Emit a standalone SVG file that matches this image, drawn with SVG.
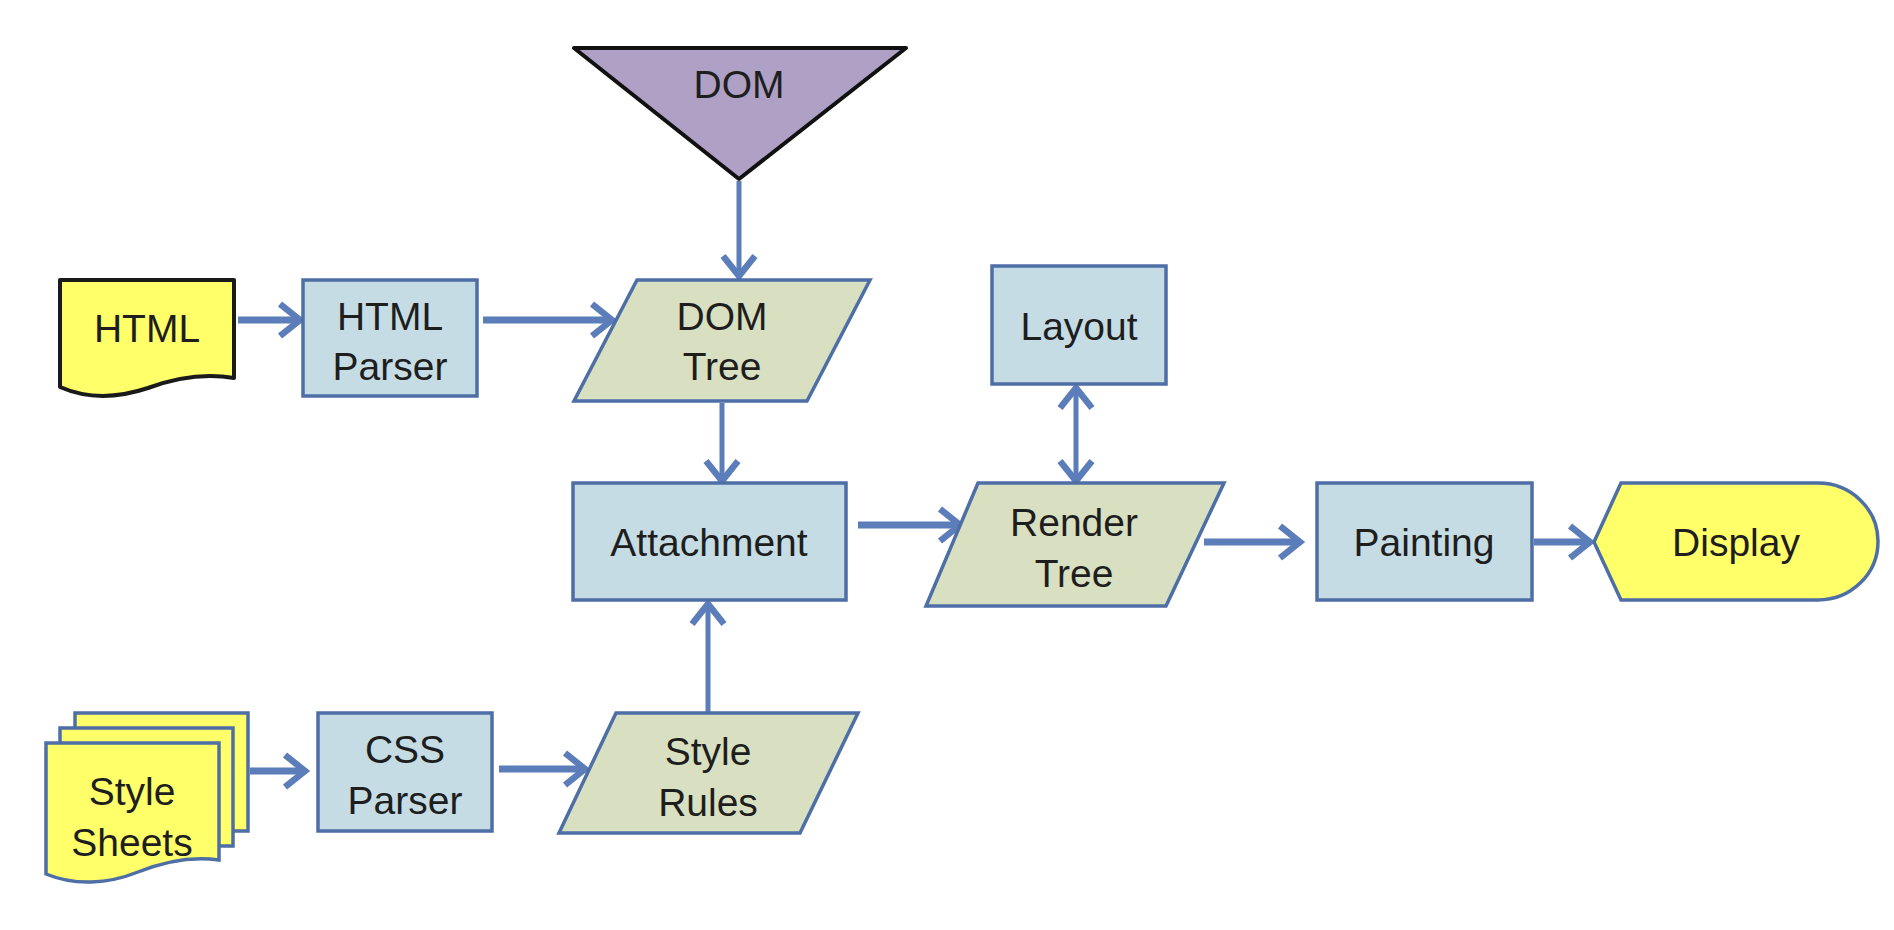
<svg xmlns="http://www.w3.org/2000/svg" width="1894" height="930" viewBox="0 0 1894 930">
<style>
.box{fill:#C5DCE5;stroke:#4E6EA6;stroke-width:3.5}
.data{fill:#D9E0C2;stroke:#4E6EA6;stroke-width:3.5}
.doc{fill:#FFFF6A;stroke:#1A1A1A;stroke-width:4;stroke-linejoin:round}
.docb{fill:#FFFF6A;stroke:#4E6EA6;stroke-width:3.5}
.term{fill:#FFFF6A;stroke:#4E6EA6;stroke-width:3.5}
.tri{fill:#AEA1C5;stroke:#111;stroke-width:4;stroke-linejoin:round}
text{font-family:"Liberation Sans",Arial,sans-serif;font-size:39px;fill:#1E1E1E;text-anchor:middle}
.c{fill:none;stroke:#5B7DBA;stroke-width:7}
.cv{fill:none;stroke:#5B7DBA;stroke-width:5}
</style>
<defs>
<marker id="ah" viewBox="0 0 30 40" refX="24" refY="20" markerWidth="30" markerHeight="40" markerUnits="userSpaceOnUse" orient="auto-start-reverse">
<path d="M4,4 L24,20 L4,36" fill="none" stroke="#5B7DBA" stroke-width="6.5"/>
</marker>
</defs>
<g id="connectors">
<line class="cv" x1="739" y1="181" x2="739" y2="276" marker-end="url(#ah)"/>
<line class="c" x1="238" y1="320" x2="300" y2="320" marker-end="url(#ah)"/>
<line class="c" x1="483" y1="320" x2="612" y2="320" marker-end="url(#ah)"/>
<line class="cv" x1="722" y1="403" x2="722" y2="481" marker-end="url(#ah)"/>
<line class="cv" x1="1076" y1="388" x2="1076" y2="481" marker-start="url(#ah)" marker-end="url(#ah)"/>
<line class="c" x1="858" y1="525" x2="960" y2="525" marker-end="url(#ah)"/>
<line class="c" x1="1204" y1="542" x2="1300" y2="542" marker-end="url(#ah)"/>
<line class="c" x1="1534" y1="542" x2="1590" y2="542" marker-end="url(#ah)"/>
<line class="cv" x1="708" y1="713" x2="708" y2="604" marker-end="url(#ah)"/>
<line class="c" x1="250" y1="771" x2="305" y2="771" marker-end="url(#ah)"/>
<line class="c" x1="499" y1="769" x2="585" y2="769" marker-end="url(#ah)"/>
</g>
<g id="dom">
<polygon class="tri" points="574,48 906,48 739,179"/>
<text x="739" y="98">DOM</text>
</g>
<g id="html">
<path class="doc" d="M60,280 H234 V378 C205,373 175,378 148,388 C115,399 85,398 60,387 Z"/>
<text x="147" y="342">HTML</text>
</g>
<g id="html-parser">
<rect class="box" x="303" y="280" width="174" height="116"/>
<text x="390" y="330">HTML</text>
<text x="390" y="380">Parser</text>
</g>
<g id="dom-tree">
<polygon class="data" points="637,280 870,280 807,401 574,401"/>
<text x="722" y="330">DOM</text>
<text x="722" y="380">Tree</text>
</g>
<g id="attachment">
<rect class="box" x="573" y="483" width="273" height="117"/>
<text x="709" y="556">Attachment</text>
</g>
<g id="layout">
<rect class="box" x="992" y="266" width="174" height="118"/>
<text x="1079" y="340">Layout</text>
</g>
<g id="render-tree">
<polygon class="data" points="978,483 1224,483 1166,606 926,606"/>
<text x="1074" y="536">Render</text>
<text x="1074" y="587">Tree</text>
</g>
<g id="painting">
<rect class="box" x="1317" y="483" width="215" height="117"/>
<text x="1424" y="556">Painting</text>
</g>
<g id="display">
<path class="term" d="M1594,542 L1621,483 H1818 A60,58.5 0 0 1 1818,600 H1621 Z"/>
<text x="1736" y="556">Display</text>
</g>
<g id="style-sheets">
<rect class="docb" x="75" y="713" width="173" height="118"/>
<rect class="docb" x="60" y="728" width="173" height="118"/>
<path class="docb" d="M46,743 H219 V860 C192,856 163,862 138,872 C108,884 75,886 46,874 Z"/>
<text x="132" y="805">Style</text>
<text x="132" y="856">Sheets</text>
</g>
<g id="css-parser">
<rect class="box" x="318" y="713" width="174" height="118"/>
<text x="405" y="763">CSS</text>
<text x="405" y="814">Parser</text>
</g>
<g id="style-rules">
<polygon class="data" points="616,713 858,713 800,833 559,833"/>
<text x="708" y="765">Style</text>
<text x="708" y="816">Rules</text>
</g>
</svg>
